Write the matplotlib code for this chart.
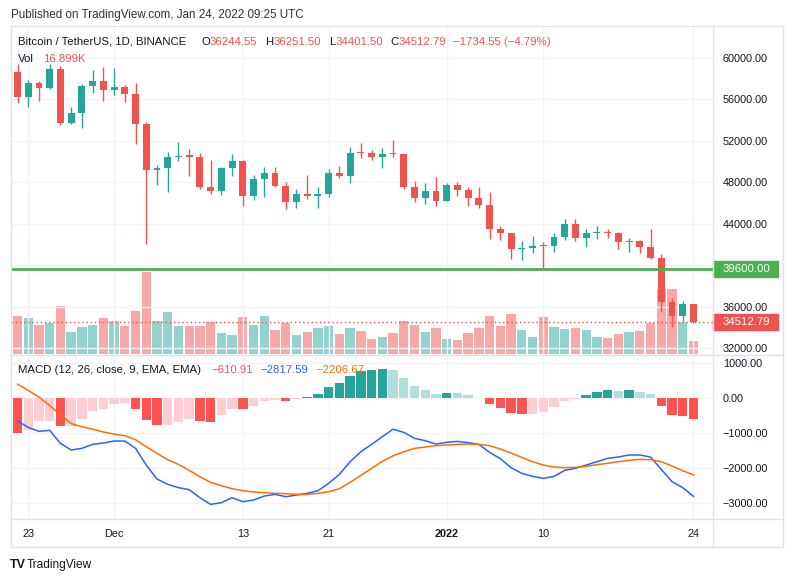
import numpy as np
import matplotlib.pyplot as plt
from matplotlib.lines import Line2D
from matplotlib.patches import Rectangle
from matplotlib.transforms import blended_transform_factory

plt.rcParams['font.family'] = ['Liberation Sans', 'DejaVu Sans']

# BTC/USDT daily candles, 22 Nov 2021 .. 24 Jan 2022 (Binance)
opens = [58617, 56247, 57541, 57139, 58961, 53723, 54717, 57274, 57777,
         56950, 57185, 56484, 53602, 49152, 49396, 50441, 50589, 50471, 47535,
         47140, 49389, 50053, 46702, 48336, 48864, 47632, 46134, 46834, 46681,
         46912, 48879, 48587, 50838, 50820, 50400, 50775, 50701, 47545, 46464, 47120,
         46216, 47722, 47286, 46446, 45832, 43451, 43082, 41566, 41679, 41865,
         41821, 42735, 43950, 42591, 43099, 43172, 43118, 42250, 42375, 41744,
         40680, 36445, 35071, 36244.55]
highs = [59444, 57875, 57735, 59398, 59186, 55281, 57445, 58865, 59176,
         59053, 57375, 57600, 53859, 49699, 50891, 51936, 51200, 50797, 50125,
         49485, 50725, 50189, 48700, 49500, 49436, 47995, 47392, 48700, 47537,
         49328, 49576, 51375, 51810, 51156, 51280, 52088, 50704, 48139, 47900, 48548,
         47954, 47990, 47570, 47557, 47070, 43816, 43145, 42300, 42786, 42249,
         43100, 44423, 44500, 43500, 43800, 43476, 43180, 42663, 42478, 43505,
         41100, 36835, 36499, 36251.50]
lows = [55610, 55317, 55837, 57000, 53500, 53610, 53256, 56666, 55875,
        56458, 55777, 51680, 42000, 47727, 47100, 50039, 48600, 47321, 46852,
        46751, 48650, 45672, 46290, 46547, 47511, 45456, 45500, 46406, 45558,
        46630, 48421, 47920, 50384, 50142, 49412, 50449, 47313, 46096, 45900, 45678,
        46208, 46654, 45696, 45500, 42500, 42430, 40611, 40501, 41200, 39650,
        41268, 42447, 42311, 41725, 42555, 42578, 41550, 41250, 41150, 40553,
        35440, 34008, 34601, 34401.50]
closes = [56247, 57541, 57138, 58960, 53726, 54721, 57274, 57776, 56950,
          57185, 56481, 53602, 49152, 49397, 50441, 50588, 50471, 47545, 47140,
          49389, 50053, 46702, 48343, 48864, 47632, 46131, 46834, 46681, 46914,
          48889, 48588, 50838, 50820, 50400, 50775, 50701, 47543, 46464, 47120, 46216,
          47722, 47286, 46446, 45832, 43451, 43082, 41566, 41679, 41864, 41822,
          42735, 43950, 42592, 43099, 43177, 43113, 42250, 42375, 41744, 40680,
          36445, 35071, 36247.34, 34512.79]
volume_k = [49.4, 46.8, 37.7, 40.3, 62.4, 28.6, 35.1, 37.7, 46.8, 42.9,
            36.4, 55.9, 106.6, 42.9, 54.6, 36.4, 36.4, 36.4, 41.6, 27.3,
            24.7, 48.1, 37.7, 49.4, 31.2, 40.3, 24.7, 28.6, 33.8, 36.4,
            26.0, 33.8, 29.9, 19.5, 22.1, 27.3, 42.9, 37.7, 28.6, 33.8,
            19.5, 18.2, 27.3, 33.8, 49.4, 36.4, 52.0, 31.2, 22.1, 48.1,
            35.1, 32.5, 33.8, 31.2, 22.1, 20.8, 26.0, 28.6, 29.9, 40.3,
            84.5, 84.5, 41.6, 16.899]

# MACD (12, 26, 9)
macd_line = [-667, -848, -961, -933, -1304, -1495, -1447, -1333, -1295, -1238,
             -1238, -1447, -1924, -2324, -2476, -2571, -2628, -2857, -3048, -3000,
             -2857, -2971, -2924, -2810, -2762, -2829, -2781, -2733, -2657, -2448,
             -2190, -1829, -1543, -1333, -1114, -900, -990, -1162, -1228, -1324,
             -1276, -1248, -1286, -1333, -1562, -1743, -2000, -2162, -2248, -2305,
             -2248, -2076, -2019, -1924, -1829, -1733, -1695, -1638, -1638, -1695,
             -2048, -2400, -2571, -2817.59]
signal_line = [387, 210, 17, -222, -483, -741, -827, -900, -980, -1040,
               -1085, -1200, -1400, -1590, -1771, -1905, -2076, -2257, -2419, -2514,
               -2600, -2657, -2695, -2714, -2733, -2743, -2762, -2762, -2733, -2686,
               -2600, -2419, -2219, -2019, -1819, -1660, -1543, -1447, -1410, -1371,
               -1352, -1333, -1324, -1333, -1371, -1467, -1581, -1705, -1829, -1924,
               -1981, -2000, -1990, -1962, -1914, -1876, -1829, -1790, -1762, -1771,
               -1829, -1952, -2086, -2206.67]
macd_hist = [-1019, -933, -676, -670, -819, -810, -619, -381, -314, -190,
             -162, -314, -648, -790, -780, -695, -600, -676, -705, -505,
             -314, -330, -229, -86, -67, -86, -48, 29, 105, 295,
             430, 619, 762, 781, 810, 781, 552, 324, 210, 105,
             133, 120, 67, -19, -181, -305, -448, -476, -470, -400,
             -267, -95, -38, 67, 152, 210, 181, 210, 152, 95,
             -238, -495, -524, -610.91]

tick_pos = [1, 9, 21, 29, 40, 49, 63]
tick_labels = ['23', 'Dec', '13', '21', '2022', '10', '24']
price_grid = [32000, 36000, 40000, 44000, 48000, 52000, 56000, 60000]
price_labels = [32000, 36000, 44000, 48000, 52000, 56000, 60000]
macd_ticks = [1000, 0, -1000, -2000, -3000]
support_level = 39600

W, H = 793, 582
UP, DOWN = '#26a69a', '#ef5350'
GRID = '#f0f3fa'
FRAME = '#e0e3eb'
TEXT = '#131722'


def rect(x0, y0, x1, y1):
    return [x0 / W, 1 - y1 / H, (x1 - x0) / W, (y1 - y0) / H]


def fmt(v):
    return f'{v:.2f}'.replace('-', '\u2212')


o, h, l, c = map(np.array, (opens, highs, lows, closes))
x = np.arange(len(c))
up = c >= o
xlim = (-0.606, 64.82)

fig = plt.figure(figsize=(W / 100, H / 100), dpi=100)

# volume layer (behind candles)
ax_v = fig.add_axes(rect(11, 26, 713, 354))
ax_v.bar(x, volume_k, width=0.87, color=np.where(up, '#92d3cd', '#f7a9a7'))
ax_v.set_xlim(xlim)
ax_v.set_ylim(0, 426.4)
ax_v.axis('off')

# price pane
ax_p = fig.add_axes(rect(11, 26, 713, 354))
ax_p.set_facecolor('none')
ax_p.set_xlim(xlim)
ax_p.set_ylim(31429, 63089)
for t in price_grid:
    ax_p.axhline(t, color=GRID, lw=1, zorder=0)
for t in tick_pos:
    ax_p.axvline(t, color=GRID, lw=1, zorder=0)
colors = np.where(up, UP, DOWN)
ax_p.vlines(x, l, h, color=colors, lw=1, zorder=3)
ax_p.bar(x, np.maximum(np.abs(c - o), 130), bottom=np.minimum(o, c),
         width=0.64, color=colors, zorder=4)
ax_p.axhline(support_level, color='#4caf50', lw=2, zorder=5)
ax_p.axhline(c[-1], color=DOWN, lw=1, ls=(0, (1, 2)), zorder=2)
ax_p.yaxis.tick_right()
ax_p.set_yticks(price_labels, [fmt(t) for t in price_labels])
ax_p.tick_params(axis='y', length=0, pad=7, labelsize=7.8, labelcolor=TEXT)
ax_p.set_xticks([])
for s in ax_p.spines.values():
    s.set_visible(False)

# price labels on the axis
tr = blended_transform_factory(ax_p.transAxes, ax_p.transData)
for val, col in ((support_level, '#4caf50'), (c[-1], DOWN)):
    ax_p.add_patch(Rectangle((1.0, val - 780), 0.092, 1560, transform=tr,
                             color=col, clip_on=False, zorder=20))
    ax_p.text(1.013, val, fmt(val), transform=tr, ha='left', va='center',
              color='white', fontsize=8.2, clip_on=False, zorder=21)

# MACD pane
ax_m = fig.add_axes(rect(11, 355, 713, 519))
ax_m.set_xlim(xlim)
ax_m.set_ylim(-3466, 1220)
for t in macd_ticks:
    ax_m.axhline(t, color=GRID, lw=1, zorder=0)
for t in tick_pos:
    ax_m.axvline(t, color=GRID, lw=1, zorder=0)
hist = np.array(macd_hist)
prev = np.concatenate([[hist[0]], hist[:-1]])
rising = hist > prev
hcol = np.where(hist >= 0, np.where(rising, '#26a69a', '#b2dfdb'),
                np.where(rising, '#ffcdd2', '#ff5252'))
ax_m.bar(x, hist, width=0.88, color=hcol, zorder=2)
ax_m.plot(x, macd_line, color='#2962ff', lw=1.1, zorder=3)
ax_m.plot(x, signal_line, color='#ff6d00', lw=1.1, zorder=3)
ax_m.yaxis.tick_right()
ax_m.set_yticks(macd_ticks, [fmt(t) for t in macd_ticks])
ax_m.tick_params(axis='y', length=0, pad=7, labelsize=7.8, labelcolor=TEXT)
ax_m.set_xticks(tick_pos, tick_labels)
ax_m.tick_params(axis='x', length=0, pad=7.5, labelsize=7.8, labelcolor=TEXT)
ax_m.get_xticklabels()[4].set_fontweight('bold')
for s in ax_m.spines.values():
    s.set_visible(False)

# frame and separators
segments = [((11, 26), (11, 547)), ((783, 26), (783, 547)), ((11, 26), (783, 26)),
            ((11, 547), (783, 547)), ((713, 26), (713, 547)),
            ((11, 355), (783, 355)), ((11, 519), (783, 519))]
for (x0, y0), (x1, y1) in segments:
    fig.add_artist(Line2D([x0 / W, x1 / W], [1 - y0 / H, 1 - y1 / H],
                          transform=fig.transFigure, color=FRAME, lw=1))


def label(px, py, s, color=TEXT, size=8.2, **kw):
    fig.text(px / W, 1 - py / H, s, color=color, fontsize=size,
             ha='left', va='center', **kw)


label(11, 15, 'Published on TradingView.com, Jan 24, 2022 09:25 UTC', color='#333', size=8.4)
label(18, 42, 'Bitcoin / TetherUS, 1D, BINANCE')
for kx, vx, key, val in ((201.5, 209.3, 'O', opens[-1]), (265, 273.3, 'H', highs[-1]),
                         (329, 335.5, 'L', lows[-1]), (390, 398.3, 'C', closes[-1])):
    label(kx, 42, key)
    label(vx, 42, f'{val:.2f}', color=DOWN)
change = closes[-1] - closes[-2]
label(453, 42, f'{fmt(change)} ({fmt(change / closes[-2] * 100)}%)', color=DOWN)
label(18, 59, 'Vol')
label(43, 59, f'{volume_k[-1]:.3f}K', color=DOWN)

label(18, 370, 'MACD (12, 26, close, 9, EMA, EMA)')
label(211, 370, fmt(macd_hist[-1]), color='#ff5252')
label(260, 370, fmt(macd_line[-1]), color='#2962ff')
label(316, 370, fmt(signal_line[-1]), color='#ff6d00')

label(10, 565, 'TV', color='#131722', size=9, fontweight='heavy')
label(27, 565, 'TradingView', color='#131722', size=8.6)

fig.savefig('out.png', dpi=100)
